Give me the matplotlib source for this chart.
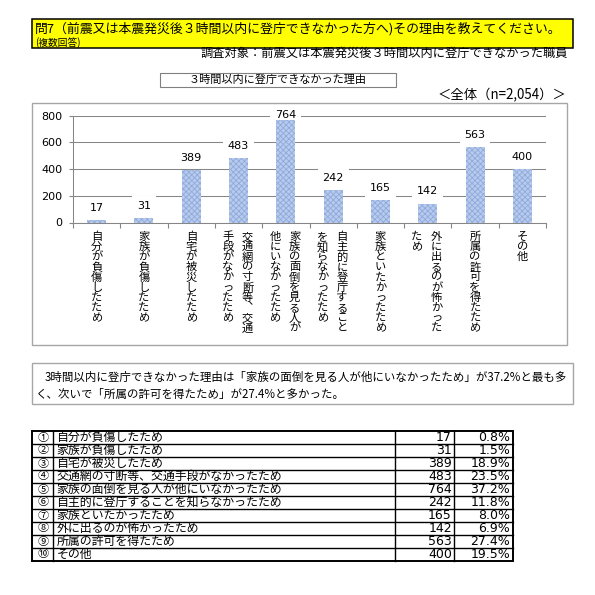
import matplotlib
matplotlib.use('Agg')
import matplotlib.pyplot as plt
from matplotlib.patches import Rectangle
import numpy as np

JP = ['Noto Sans CJK JP', 'DejaVu Sans']
NUM = ['DejaVu Sans']
plt.rcParams['font.family'] = JP
plt.rcParams['hatch.linewidth'] = 0.6

# ---------------- data ----------------
question = "問7（前震又は本震発災後３時間以内に登庁できなかった方へ)その理由を教えてください。"
note = "(複数回答)"
target = "調査対象：前震又は本震発災後３時間以内に登庁できなかった職員"
chart_title = "３時間以内に登庁できなかった理由"
n_label = "＜全体（n=2,054）＞"

categories = [
    "自分が負傷したため",
    "家族が負傷したため",
    "自宅が被災したため",
    "交通網の寸断等、交通手段がなかったため",
    "家族の面倒を見る人が他にいなかったため",
    "自主的に登庁することを知らなかったため",
    "家族といたかったため",
    "外に出るのが怖かったため",
    "所属の許可を得たため",
    "その他",
]
values = [17, 31, 389, 483, 764, 242, 165, 142, 563, 400]
percents = [0.8, 1.5, 18.9, 23.5, 37.2, 11.8, 8.0, 6.9, 27.4, 19.5]
numbers = ["①", "②", "③", "④", "⑤", "⑥", "⑦", "⑧", "⑨", "⑩"]
yticks = [0, 200, 400, 600, 800]

summary_lines = [
    "3時間以内に登庁できなかった理由は「家族の面倒を見る人が他にいなかったため」が37.2%と最も多",
    "く、次いで「所属の許可を得たため」が27.4%と多かった。",
]

# ---------------- figure ----------------
W = H = 595
fig = plt.figure(figsize=(5.95, 5.95), dpi=100)
bg = fig.add_axes([0, 0, 1, 1])
bg.set_xlim(0, W)
bg.set_ylim(H, 0)
bg.axis('off')

GRAY = '#a6a6a6'

# question header
bg.add_patch(Rectangle((31.7, 19), 541, 28.7, fc='#ffff00', ec='black', lw=1.1))
bg.text(35, 28.5, question, fontsize=9.3, va='center', ha='left')
bg.text(35, 42.5, note, fontsize=7, va='center', ha='left')
bg.text(568, 53.8, target, fontsize=8.8, va='center', ha='right')

# chart title box
bg.add_patch(Rectangle((160, 72.7), 235.7, 14.6, fc='white', ec='#808080', lw=0.8))
bg.text(278, 80, chart_title, fontsize=8, va='center', ha='center')
bg.text(566.7, 95, n_label, fontsize=9.6, va='center', ha='right')

# chart frame
bg.add_patch(Rectangle((32.3, 103.3), 534.4, 241.7, fc='white', ec=GRAY, lw=1))

# summary box
bg.add_patch(Rectangle((32.3, 363.3), 540.4, 41, fc='white', ec=GRAY, lw=1))
bg.text(45, 377.3, summary_lines[0], fontsize=8.25, va='center', ha='left')
bg.text(35.7, 394.3, summary_lines[1], fontsize=8.25, va='center', ha='left')

# table
xe = [32.3, 53.3, 395, 454.3, 513.3]
ytop = 431
rh = 13
nrows = len(categories)
for r in range(nrows + 1):
    y = ytop + r * rh
    lw = 1.4 if r in (0, nrows) else 1.0
    bg.plot([xe[0], xe[-1]], [y, y], color='black', lw=lw, solid_capstyle='projecting')
for k, x in enumerate(xe):
    lw = 1.4 if k in (0, len(xe) - 1) else 1.0
    bg.plot([x, x], [ytop, ytop + nrows * rh], color='black', lw=lw, solid_capstyle='projecting')
for r in range(nrows):
    yc = ytop + (r + 0.5) * rh
    bg.text((xe[0] + xe[1]) / 2, yc, numbers[r], fontsize=8, ha='center', va='center')
    bg.text(56.5, yc, categories[r], fontsize=8.6, ha='left', va='center')
    bg.text(xe[3] - 2.5, yc, f"{values[r]}", fontsize=9, ha='right', va='center', family=NUM)
    bg.text(xe[4] - 3, yc, f"{percents[r]:.1f}%", fontsize=9, ha='right', va='center', family=NUM)

# ---------------- bar chart ----------------
ax_l, ax_r, ax_t, ax_b = 73, 546, 115.5, 222.5
ax = fig.add_axes([ax_l / W, 1 - ax_b / H, (ax_r - ax_l) / W, (ax_b - ax_t) / H])
ax.patch.set_alpha(0)
x = np.arange(len(values))
ax.bar(x, values, width=0.4, color='#b8cbec', edgecolor='#8eaadc', linewidth=0,
       hatch='xxxxxx', zorder=5)
ax.set_xlim(-0.5, len(values) - 0.5)
ax.set_ylim(0, 800)
ax.set_yticks(yticks)
ax.set_yticklabels([str(t) for t in yticks], family=NUM, fontsize=8)
ax.yaxis.grid(True, color='#868686', lw=0.75, zorder=0)
ax.set_axisbelow(True)
for s in ('top', 'right'):
    ax.spines[s].set_visible(False)
for s in ('left', 'bottom'):
    ax.spines[s].set_color('#868686')
    ax.spines[s].set_linewidth(0.75)
ax.tick_params(axis='y', length=3, color='#868686', pad=4.5, direction='out')
ax.set_xticks(np.arange(-0.5, len(values), 1))
ax.set_xticklabels([])
ax.tick_params(axis='x', length=3.6, color='#868686', direction='out')

# value labels
px_per_unit = (ax_b - ax_t) / 800
for i, v in enumerate(values):
    yl = min(v + 12.2 / px_per_unit, 800)
    ax.text(i, yl, str(v), ha='center', va='center', fontsize=8, family=NUM,
            bbox=dict(fc='white', ec='none', pad=3.5), zorder=4, clip_on=False)

# vertical category labels
P = 0.72  # points per pixel
step = 10.15
vert_map = {'、': '︑'}
for i, cat in enumerate(categories):
    cols = [cat[j:j + 10] for j in range(0, len(cat), 10)]
    nc = len(cols)
    for k, col in enumerate(cols):
        dx = ((nc - 1) / 2 - k) * 19.5 - (1 if nc > 1 else 0)
        for m, ch in enumerate(col):
            ax.annotate(vert_map.get(ch, ch), xy=(i, 0), xycoords=('data', 'axes fraction'),
                        xytext=(dx * P, -(9.3 + m * step) * P), textcoords='offset points',
                        ha='center', va='top', fontsize=8.1, annotation_clip=False)

fig.savefig('out.png', dpi=100)
